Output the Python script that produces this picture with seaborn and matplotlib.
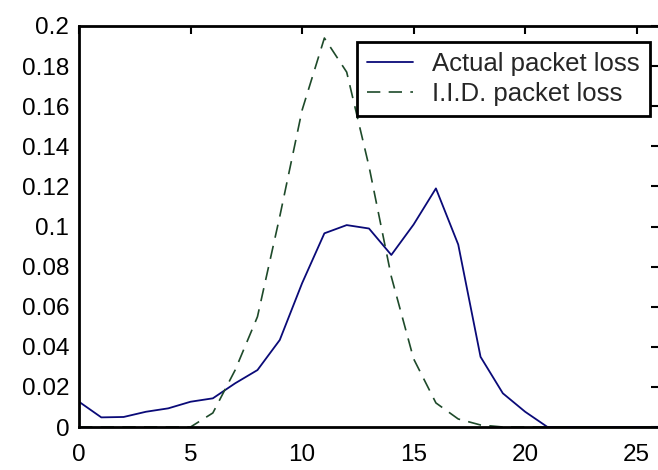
import numpy as np
import matplotlib
matplotlib.use("Agg")
import matplotlib.pyplot as plt
import seaborn as sns
import pandas as pd

sns.set_style("white")
plt.rcParams['font.family'] = ['Liberation Sans', 'DejaVu Sans']

# valeurs (x = 0..26)
x = list(range(0, 27))
actual = [0.0126, 0.0048, 0.0050, 0.0076, 0.0093, 0.0126, 0.0143, 0.0218, 0.0284,
          0.0434, 0.0717, 0.0966, 0.1007, 0.0990, 0.0858, 0.1010, 0.1190, 0.0910,
          0.0350, 0.0168, 0.0076, 0.0, 0.0, 0.0, 0.0, 0.0, 0.0]
iid = [0.0, 0.0, 0.0, 0.0, 0.0, 0.0, 0.0070, 0.0284, 0.0550,
       0.1050, 0.1580, 0.1940, 0.1770, 0.1300, 0.0750, 0.0340, 0.0120, 0.0040,
       0.0010, 0.0, 0.0, 0.0, 0.0, 0.0, 0.0, 0.0, 0.0]
xticks = [0, 5, 10, 15, 20, 25]
yticks = [0, 0.02, 0.04, 0.06, 0.08, 0.1, 0.12, 0.14, 0.16, 0.18, 0.2]
ylabels = ['0', '0.02', '0.04', '0.06', '0.08', '0.1', '0.12', '0.14', '0.16', '0.18', '0.2']

df = pd.DataFrame({"x": x, "actual": actual, "iid": iid})

fig = plt.figure(figsize=(6.58, 4.70), dpi=100)
ax = fig.add_axes([79 / 658, 43 / 470, 580 / 658, 401 / 470])

sns.lineplot(data=df, x="x", y="actual", ax=ax, color="#0a0a78", linewidth=1.3,
             label="Actual packet loss")
sns.lineplot(data=df, x="x", y="iid", ax=ax, color="#1e4a2a", linewidth=1.2,
             label="I.I.D. packet loss")
# tirets de la courbe i.i.d.
ax.lines[1].set_dashes((8, 5))

ax.set_xlim(0, 26)
ax.set_ylim(0, 0.2)
ax.set_xticks(xticks)
ax.set_xticklabels([str(t) for t in xticks])
ax.set_yticks(yticks)
ax.set_yticklabels(ylabels)
ax.set_xlabel("")
ax.set_ylabel("")

ax.tick_params(direction="in", length=6, width=1.5, top=True, right=True,
               labelsize=17.5, colors="black")
ax.tick_params(axis="x", pad=12)
ax.tick_params(axis="y", pad=7)
for s in ax.spines.values():
    s.set_linewidth(2)
    s.set_color("black")

leg = ax.legend(loc="upper right", bbox_to_anchor=(0.985, 0.96), fontsize=18.5,
                frameon=True, fancybox=False, handlelength=1.8, handletextpad=0.75,
                borderpad=0.4, labelspacing=0.22, borderaxespad=0)
leg.get_frame().set_edgecolor("black")
leg.get_frame().set_linewidth(2)
leg.get_frame().set_alpha(1)

fig.savefig("out.png", dpi=100)
